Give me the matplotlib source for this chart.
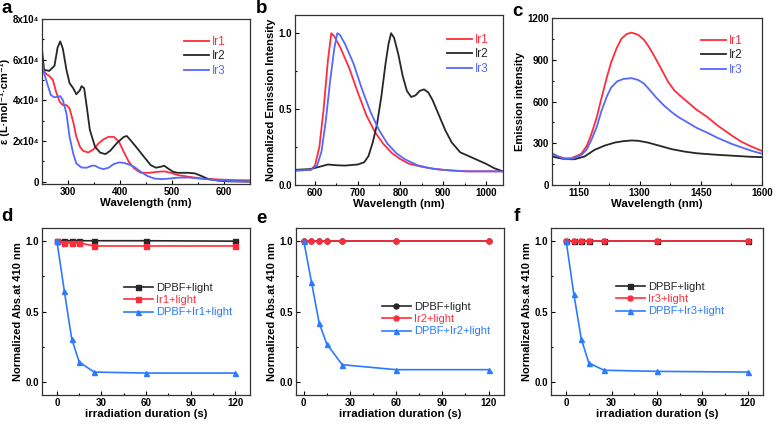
import matplotlib
matplotlib.use('Agg')
import matplotlib.pyplot as plt
from matplotlib.ticker import AutoMinorLocator

plt.rcParams['font.family'] = ['Liberation Sans', 'DejaVu Sans']
plt.rcParams['font.weight'] = 'bold'
plt.rcParams['axes.labelweight'] = 'bold'

RED = '#ff2d3c'
BLACK = '#262626'
BLUE = '#5468ff'
BLUE2 = '#2c7bff'

# ---- panel a: absorption (x1e4) ----
a_ir1_x = [250, 258, 264, 271, 277, 284, 290, 297, 303, 310, 316, 323, 329, 339, 349, 359, 368, 378, 388, 398,
           407, 417, 427, 440, 456, 472, 485, 498, 511, 531, 557, 590, 622, 655]
a_ir1_y = [5.57, 5.3, 5.2, 5.0, 4.43, 3.93, 3.77, 3.77, 3.6, 2.95, 2.21, 1.72, 1.52, 1.44, 1.59, 1.89, 2.08, 2.21,
           2.21, 1.97, 1.48, 0.98, 0.66, 0.44, 0.44, 0.49, 0.51, 0.44, 0.33, 0.25, 0.16, 0.11, 0.08, 0.07]
a_ir2_x = [250, 254, 264, 274, 280, 285, 290, 297, 303, 310, 316, 323, 326, 331, 336, 342, 352, 362, 372, 381,
           394, 407, 413, 420, 433, 446, 459, 469, 479, 485, 492, 502, 511, 531, 544, 557, 570, 590, 609, 655]
a_ir2_y = [6.5, 5.5, 5.45, 5.7, 6.6, 6.9, 6.55, 5.5, 4.85, 4.6, 4.3, 4.5, 4.7, 4.6, 3.7, 2.55, 1.72, 1.43, 1.36,
           1.52, 1.9, 2.2, 2.25, 2.05, 1.65, 1.23, 0.82, 0.69, 0.74, 0.79, 0.66, 0.49, 0.44, 0.44, 0.41, 0.28,
           0.13, 0.05, 0.02, 0.0]
a_ir3_x = [250, 254, 261, 267, 274, 280, 285, 290, 297, 303, 310, 316, 326, 336, 346, 352, 359, 368, 378, 388,
           398, 407, 417, 427, 440, 453, 466, 479, 492, 511, 531, 557, 590, 622, 655]
a_ir3_y = [5.9, 5.33, 4.75, 4.26, 4.15, 4.18, 4.21, 4.02, 3.36, 2.21, 1.39, 0.9, 0.7, 0.69, 0.79, 0.79, 0.69,
           0.62, 0.69, 0.87, 0.95, 0.93, 0.85, 0.74, 0.49, 0.28, 0.16, 0.13, 0.15, 0.2, 0.21, 0.15, 0.07, 0.03, 0.02]

# ---- panel b: normalized emission ----
b_ir1_x = [553, 590, 600, 610, 620, 630, 638, 645, 660, 680, 700, 720, 740, 760, 780, 800, 820, 850, 880, 920, 960, 1040]
b_ir1_y = [0.095, 0.1, 0.13, 0.25, 0.5, 0.82, 1.0, 0.98, 0.9, 0.77, 0.61, 0.46, 0.35, 0.27, 0.21, 0.17, 0.14,
           0.12, 0.105, 0.095, 0.09, 0.09]
b_ir2_x = [553, 590, 610, 630, 650, 670, 700, 715, 725, 735, 745, 755, 765, 772, 778, 785, 795, 805, 815, 825,
           835, 845, 855, 865, 875, 890, 905, 920, 940, 960, 980, 1000, 1020, 1040]
b_ir2_y = [0.1, 0.105, 0.12, 0.135, 0.13, 0.128, 0.135, 0.15, 0.19, 0.28, 0.4, 0.58, 0.8, 0.93, 1.0, 0.97, 0.86,
           0.72, 0.62, 0.58, 0.59, 0.62, 0.63, 0.61, 0.56, 0.46, 0.36, 0.28, 0.215, 0.19, 0.165, 0.14, 0.11, 0.09]
b_ir3_x = [553, 590, 605, 615, 625, 635, 645, 652, 658, 670, 690, 710, 730, 750, 770, 790, 810, 840, 870, 900, 950, 1040]
b_ir3_y = [0.095, 0.1, 0.13, 0.22, 0.42, 0.68, 0.9, 1.0, 0.99, 0.93, 0.8, 0.63, 0.48, 0.36, 0.27, 0.21, 0.17,
           0.13, 0.11, 0.1, 0.09, 0.09]

# ---- panel c: NIR emission ----
c_ir1_x = [1085, 1100, 1116, 1132, 1148, 1157, 1170, 1181, 1195, 1206, 1220, 1230, 1243, 1255, 1268, 1280, 1296,
           1310, 1321, 1337, 1350, 1370, 1385, 1400, 1420, 1440, 1465, 1490, 1526, 1550, 1575, 1600]
c_ir1_y = [225, 205, 192, 192, 212, 225, 280, 360, 490, 620, 780, 880, 980, 1050, 1085, 1095, 1080, 1045, 1000,
           920, 850, 740, 680, 640, 590, 540, 490, 430, 355, 310, 275, 245]
c_ir2_x = [1085, 1100, 1116, 1140, 1165, 1189, 1214, 1239, 1260, 1280, 1296, 1320, 1345, 1378, 1410, 1440, 1485,
           1530, 1570, 1600]
c_ir2_y = [205, 195, 186, 185, 205, 252, 283, 305, 315, 320, 318, 305, 285, 258, 240, 228, 218, 210, 203, 200]
c_ir3_x = [1085, 1100, 1116, 1136, 1157, 1170, 1181, 1195, 1206, 1220, 1230, 1245, 1260, 1280, 1296, 1310, 1321,
           1340, 1360, 1380, 1394, 1420, 1440, 1470, 1490, 1526, 1550, 1575, 1600]
c_ir3_y = [228, 205, 186, 190, 215, 255, 320, 420, 530, 640, 700, 745, 762, 768, 755, 730, 695, 630, 570, 520,
           490, 445, 410, 370, 340, 295, 270, 245, 225]

# ---- panels d-f: DPBF decay ----
t = [0, 5, 10, 15, 25, 60, 120]
d_dpbf = [1.0, 1.0, 1.0, 1.0, 1.0, 1.0, 0.997]
d_ir = [1.0, 0.985, 0.985, 0.985, 0.963, 0.963, 0.963]
d_mix = [1.0, 0.646, 0.306, 0.144, 0.072, 0.065, 0.065]
e_dpbf = [1.0, 1.0, 1.0, 1.0, 1.0, 1.0, 1.0]
e_ir = [1.0, 1.0, 1.0, 1.0, 1.0, 1.0, 1.0]
e_mix = [1.0, 0.71, 0.42, 0.27, 0.124, 0.089, 0.089]
f_dpbf = [1.0, 1.0, 1.0, 1.0, 1.0, 1.0, 1.0]
f_ir = [1.0, 1.0, 1.0, 1.0, 1.0, 1.0, 1.0]
f_mix = [1.0, 0.627, 0.306, 0.136, 0.085, 0.077, 0.072]

W, H = 776, 424
fig = plt.figure(figsize=(W / 100, H / 100), dpi=100)


def rect(x0, y0, x1, y1):
    return [x0 / W, 1 - y1 / H, (x1 - x0) / W, (y1 - y0) / H]


def style(ax):
    for s in ax.spines.values():
        s.set_linewidth(0.9)
        s.set_color('#333333')
    ax.tick_params(which='both', direction='in', top=False, right=False, labelsize=7, pad=2, width=0.8)
    ax.tick_params(which='major', length=3)
    ax.tick_params(which='minor', length=1.6)
    ax.xaxis.set_minor_locator(AutoMinorLocator(2))
    ax.yaxis.set_minor_locator(AutoMinorLocator(2))


def leg(ax, x, y, fs, hl):
    ax.legend(loc='upper left', bbox_to_anchor=(x / W, 1 - y / H), bbox_transform=fig.transFigure,
              frameon=False, prop={'size': fs, 'weight': 'normal'}, labelcolor='linecolor',
              handlelength=hl, handletextpad=0.3, labelspacing=0.2, borderpad=0, borderaxespad=0)


def letter(x, y, s):
    fig.text(x / W, 1 - y / H, s, fontsize=13.5, fontweight='bold', va='top', ha='left')


# a
ax = fig.add_axes(rect(42, 19, 250, 184))
ax.plot(a_ir1_x, [v * 1e4 for v in a_ir1_y], color=RED, lw=1.3, label='Ir1')
ax.plot(a_ir2_x, [v * 1e4 for v in a_ir2_y], color=BLACK, lw=1.3, label='Ir2')
ax.plot(a_ir3_x, [v * 1e4 for v in a_ir3_y], color=BLUE, lw=1.3, label='Ir3')
ax.set_xlim(250, 650)
ax.set_ylim(-1100, 80000)
ax.set_xticks([300, 400, 500, 600])
ax.set_yticks([0, 20000, 40000, 60000, 80000])
ax.set_yticklabels(['0', '2x10⁴', '4x10⁴', '6x10⁴', '8x10⁴'])
style(ax)
ax.set_xlabel('Wavelength (nm)', fontsize=8.2, labelpad=1)
ax.set_ylabel('ε (L·mol⁻¹·cm⁻¹)', fontsize=8, labelpad=2)
leg(ax, 184, 36, 8.5, 2.1)

# b
ax = fig.add_axes(rect(295, 15, 503, 185))
ax.plot(b_ir1_x, b_ir1_y, color=RED, lw=1.3, label='Ir1')
ax.plot(b_ir2_x, b_ir2_y, color=BLACK, lw=1.3, label='Ir2')
ax.plot(b_ir3_x, b_ir3_y, color=BLUE, lw=1.3, label='Ir3')
ax.set_xlim(553, 1040)
ax.set_ylim(0, 1.12)
ax.set_xticks([600, 700, 800, 900, 1000])
ax.set_yticks([0.0, 0.5, 1.0])
style(ax)
ax.set_xlabel('Wavelength (nm)', fontsize=8.2, labelpad=1)
ax.set_ylabel('Normalized Emission Intensity', fontsize=8, labelpad=2)
leg(ax, 447, 34, 8.5, 2.1)

# c
ax = fig.add_axes(rect(552, 18, 762, 185))
ax.plot(c_ir1_x, c_ir1_y, color=RED, lw=1.3, label='Ir1')
ax.plot(c_ir2_x, c_ir2_y, color=BLACK, lw=1.3, label='Ir2')
ax.plot(c_ir3_x, c_ir3_y, color=BLUE, lw=1.3, label='Ir3')
ax.set_xlim(1085, 1600)
ax.set_ylim(0, 1200)
ax.set_xticks([1150, 1300, 1450, 1600])
ax.set_yticks([0, 300, 600, 900, 1200])
style(ax)
ax.set_xlabel('Wavelength (nm)', fontsize=8.2, labelpad=1)
ax.set_ylabel('Emission intensity', fontsize=8, labelpad=2)
leg(ax, 701, 35, 8.5, 2.1)

# d-f
panels = [
    (rect(42, 228, 250, 395), (-10, 130), d_dpbf, d_ir, d_mix, 'Ir1', 's', 's', (124, 283)),
    (rect(296, 228, 504, 395), (-5, 130), e_dpbf, e_ir, e_mix, 'Ir2', 'o', 'o', (382, 302)),
    (rect(551, 228, 763, 395), (-10, 130), f_dpbf, f_ir, f_mix, 'Ir3', 's', 'o', (616, 282)),
]
for r, xl, y1, y2, y3, name, m1, m2, lp in panels:
    ax = fig.add_axes(r)
    ax.plot(t, y1, color=BLACK, lw=1.2, marker=m1, ms=3.6, label='DPBF+light')
    ax.plot(t, y2, color=RED, lw=1.2, marker=m2, ms=3.6, label=f'{name}+light')
    ax.plot(t, y3, color=BLUE2, lw=1.2, marker='^', ms=3.6, label=f'DPBF+{name}+light')
    ax.set_xlim(*xl)
    ax.set_ylim(-0.09, 1.09)
    ax.set_xticks([0, 30, 60, 90, 120])
    ax.set_yticks([0.0, 0.5, 1.0])
    style(ax)
    ax.set_xlabel('irradiation duration (s)', fontsize=8.2, labelpad=1)
    ax.set_ylabel('Normalized Abs.at 410 nm', fontsize=8, labelpad=2)
    leg(ax, lp[0], lp[1], 8, 2.6)

letter(1, 0, 'a')
letter(256, 0, 'b')
letter(512, 3, 'c')
letter(1, 208, 'd')
letter(256, 210, 'e')
letter(514, 208, 'f')

fig.savefig('out.png', dpi=100)
